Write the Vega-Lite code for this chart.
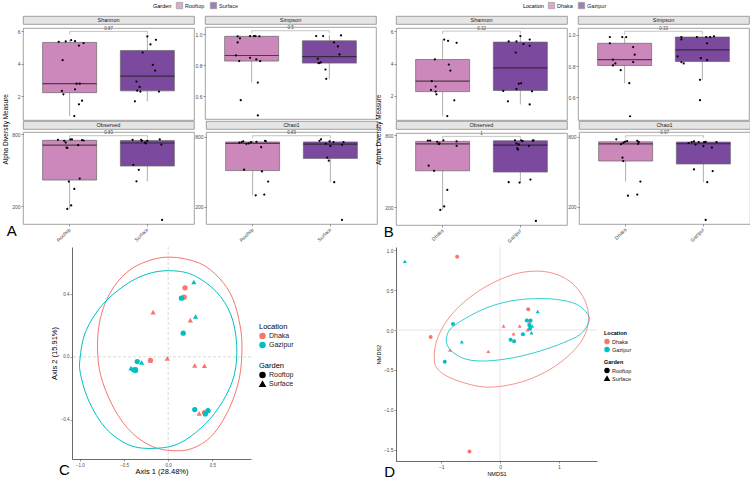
{
"$schema":"https://vega.github.io/schema/vega-lite/v6.json",
"padding":2,
"background":"white",
"config":{
 "font":"Liberation Sans",
 "view":{"stroke":"#8c8c8c","strokeWidth":0.8},
 "axis":{"domain":false,"grid":false,"tickSize":2,"tickColor":"#333","tickWidth":0.5,"labelFontSize":5,"labelColor":"#4d4d4d","labelPadding":1,"titleFontWeight":"normal","titleColor":"#000","titleFontSize":6},
 "legend":{"titleFontWeight":"normal","titleColor":"#000","labelColor":"#1a1a1a"},
 "title":{"fontWeight":"normal","color":"#000"}
},
"datasets":{
"alphaA":[
{"metric":"Shannon","group":"Rooftop","value":5.36,"j":-0.14},{"metric":"Shannon","group":"Rooftop","value":5.38,"j":-0.05},{"metric":"Shannon","group":"Rooftop","value":5.46,"j":0.02},{"metric":"Shannon","group":"Rooftop","value":5.40,"j":0.07},{"metric":"Shannon","group":"Rooftop","value":5.13,"j":0.12},{"metric":"Shannon","group":"Rooftop","value":5.28,"j":0.18},{"metric":"Shannon","group":"Rooftop","value":4.23,"j":-0.09},{"metric":"Shannon","group":"Rooftop","value":2.78,"j":0.09},{"metric":"Shannon","group":"Rooftop","value":2.78,"j":0.13},{"metric":"Shannon","group":"Rooftop","value":2.33,"j":-0.10},{"metric":"Shannon","group":"Rooftop","value":2.12,"j":-0.08},{"metric":"Shannon","group":"Rooftop","value":2.43,"j":0.07},{"metric":"Shannon","group":"Rooftop","value":1.73,"j":0.16},{"metric":"Shannon","group":"Rooftop","value":1.51,"j":0.12},{"metric":"Shannon","group":"Rooftop","value":0.78,"j":0.06},
{"metric":"Shannon","group":"Surface","value":5.69,"j":0.0},{"metric":"Shannon","group":"Surface","value":5.48,"j":0.11},{"metric":"Shannon","group":"Surface","value":5.20,"j":0.04},{"metric":"Shannon","group":"Surface","value":4.70,"j":-0.06},{"metric":"Shannon","group":"Surface","value":3.94,"j":0.07},{"metric":"Shannon","group":"Surface","value":3.59,"j":0.10},{"metric":"Shannon","group":"Surface","value":2.91,"j":-0.14},{"metric":"Shannon","group":"Surface","value":2.58,"j":-0.10},{"metric":"Shannon","group":"Surface","value":2.35,"j":-0.13},{"metric":"Shannon","group":"Surface","value":2.29,"j":-0.09},{"metric":"Shannon","group":"Surface","value":2.29,"j":0.15},{"metric":"Shannon","group":"Surface","value":1.69,"j":-0.16},
{"metric":"Simpson","group":"Rooftop","value":0.985,"j":-0.18},{"metric":"Simpson","group":"Rooftop","value":0.972,"j":-0.15},{"metric":"Simpson","group":"Rooftop","value":0.987,"j":-0.02},{"metric":"Simpson","group":"Rooftop","value":0.987,"j":0.03},{"metric":"Simpson","group":"Rooftop","value":0.987,"j":0.05},{"metric":"Simpson","group":"Rooftop","value":0.985,"j":0.10},{"metric":"Simpson","group":"Rooftop","value":0.946,"j":-0.18},{"metric":"Simpson","group":"Rooftop","value":0.862,"j":-0.20},{"metric":"Simpson","group":"Rooftop","value":0.826,"j":-0.16},{"metric":"Simpson","group":"Rooftop","value":0.847,"j":-0.02},{"metric":"Simpson","group":"Rooftop","value":0.837,"j":0.06},{"metric":"Simpson","group":"Rooftop","value":0.826,"j":0.11},{"metric":"Simpson","group":"Rooftop","value":0.688,"j":0.08},{"metric":"Simpson","group":"Rooftop","value":0.575,"j":-0.14},{"metric":"Simpson","group":"Rooftop","value":0.477,"j":0.08},
{"metric":"Simpson","group":"Surface","value":0.987,"j":-0.17},{"metric":"Simpson","group":"Surface","value":0.987,"j":-0.08},{"metric":"Simpson","group":"Surface","value":0.991,"j":0.15},{"metric":"Simpson","group":"Surface","value":0.946,"j":0.06},{"metric":"Simpson","group":"Surface","value":0.920,"j":0.11},{"metric":"Simpson","group":"Surface","value":0.869,"j":0.13},{"metric":"Simpson","group":"Surface","value":0.841,"j":-0.15},{"metric":"Simpson","group":"Surface","value":0.813,"j":-0.14},{"metric":"Simpson","group":"Surface","value":0.813,"j":-0.13},{"metric":"Simpson","group":"Surface","value":0.817,"j":-0.11},{"metric":"Simpson","group":"Surface","value":0.772,"j":-0.05},{"metric":"Simpson","group":"Surface","value":0.712,"j":-0.04},
{"metric":"Observed","group":"Rooftop","value":755,"j":-0.15},{"metric":"Observed","group":"Rooftop","value":746,"j":-0.07},{"metric":"Observed","group":"Rooftop","value":732,"j":-0.05},{"metric":"Observed","group":"Rooftop","value":758,"j":0.01},{"metric":"Observed","group":"Rooftop","value":758,"j":0.03},{"metric":"Observed","group":"Rooftop","value":687,"j":-0.03},{"metric":"Observed","group":"Rooftop","value":690,"j":-0.04},{"metric":"Observed","group":"Rooftop","value":710,"j":0.11},{"metric":"Observed","group":"Rooftop","value":752,"j":0.16},{"metric":"Observed","group":"Rooftop","value":749,"j":0.18},{"metric":"Observed","group":"Rooftop","value":431,"j":0.13},{"metric":"Observed","group":"Rooftop","value":406,"j":-0.01},{"metric":"Observed","group":"Rooftop","value":344,"j":0.06},{"metric":"Observed","group":"Rooftop","value":206,"j":0.02},{"metric":"Observed","group":"Rooftop","value":177,"j":-0.03},
{"metric":"Observed","group":"Surface","value":755,"j":-0.19},{"metric":"Observed","group":"Surface","value":755,"j":-0.08},{"metric":"Observed","group":"Surface","value":746,"j":-0.07},{"metric":"Observed","group":"Surface","value":732,"j":-0.03},{"metric":"Observed","group":"Surface","value":724,"j":-0.02},{"metric":"Observed","group":"Surface","value":746,"j":0.0},{"metric":"Observed","group":"Surface","value":758,"j":0.16},{"metric":"Observed","group":"Surface","value":715,"j":0.18},{"metric":"Observed","group":"Surface","value":546,"j":-0.18},{"metric":"Observed","group":"Surface","value":504,"j":-0.11},{"metric":"Observed","group":"Surface","value":408,"j":-0.14},{"metric":"Observed","group":"Surface","value":85,"j":0.19},
{"metric":"Chao1","group":"Rooftop","value":758,"j":-0.12},{"metric":"Chao1","group":"Rooftop","value":753,"j":-0.14},{"metric":"Chao1","group":"Rooftop","value":738,"j":-0.08},{"metric":"Chao1","group":"Rooftop","value":752,"j":-0.02},{"metric":"Chao1","group":"Rooftop","value":755,"j":0.05},{"metric":"Chao1","group":"Rooftop","value":764,"j":0.16},{"metric":"Chao1","group":"Rooftop","value":760,"j":0.17},{"metric":"Chao1","group":"Rooftop","value":709,"j":0.11},{"metric":"Chao1","group":"Rooftop","value":517,"j":-0.11},{"metric":"Chao1","group":"Rooftop","value":502,"j":0.12},{"metric":"Chao1","group":"Rooftop","value":416,"j":0.20},{"metric":"Chao1","group":"Rooftop","value":298,"j":0.04},{"metric":"Chao1","group":"Rooftop","value":304,"j":0.15},{"metric":"Chao1","group":"Rooftop","value":748,"j":-0.17},{"metric":"Chao1","group":"Rooftop","value":741,"j":-0.05},
{"metric":"Chao1","group":"Surface","value":776,"j":-0.12},{"metric":"Chao1","group":"Surface","value":764,"j":-0.14},{"metric":"Chao1","group":"Surface","value":758,"j":-0.01},{"metric":"Chao1","group":"Surface","value":753,"j":0.04},{"metric":"Chao1","group":"Surface","value":753,"j":0.17},{"metric":"Chao1","group":"Surface","value":740,"j":-0.06},{"metric":"Chao1","group":"Surface","value":730,"j":0.15},{"metric":"Chao1","group":"Surface","value":720,"j":0.0},{"metric":"Chao1","group":"Surface","value":620,"j":-0.04},{"metric":"Chao1","group":"Surface","value":594,"j":-0.02},{"metric":"Chao1","group":"Surface","value":410,"j":0.05},{"metric":"Chao1","group":"Surface","value":88,"j":0.15}
],
"alphaB":[
{"metric":"Shannon","group":"Dhaka","value":5.48,"j":0.02},{"metric":"Shannon","group":"Dhaka","value":5.40,"j":0.07},{"metric":"Shannon","group":"Dhaka","value":5.28,"j":0.18},{"metric":"Shannon","group":"Dhaka","value":4.25,"j":-0.10},{"metric":"Shannon","group":"Dhaka","value":3.94,"j":0.08},{"metric":"Shannon","group":"Dhaka","value":3.57,"j":0.10},{"metric":"Shannon","group":"Dhaka","value":2.91,"j":-0.14},{"metric":"Shannon","group":"Dhaka","value":2.58,"j":-0.09},{"metric":"Shannon","group":"Dhaka","value":2.37,"j":-0.15},{"metric":"Shannon","group":"Dhaka","value":2.27,"j":-0.09},{"metric":"Shannon","group":"Dhaka","value":2.10,"j":-0.08},{"metric":"Shannon","group":"Dhaka","value":1.73,"j":0.15},{"metric":"Shannon","group":"Dhaka","value":0.76,"j":0.06},
{"metric":"Shannon","group":"Gazipur","value":5.69,"j":0.0},{"metric":"Shannon","group":"Gazipur","value":5.36,"j":-0.15},{"metric":"Shannon","group":"Gazipur","value":5.36,"j":-0.05},{"metric":"Shannon","group":"Gazipur","value":5.48,"j":0.12},{"metric":"Shannon","group":"Gazipur","value":5.20,"j":0.04},{"metric":"Shannon","group":"Gazipur","value":5.09,"j":0.12},{"metric":"Shannon","group":"Gazipur","value":4.68,"j":-0.06},{"metric":"Shannon","group":"Gazipur","value":2.76,"j":-0.02},{"metric":"Shannon","group":"Gazipur","value":2.78,"j":0.01},{"metric":"Shannon","group":"Gazipur","value":2.43,"j":-0.05},{"metric":"Shannon","group":"Gazipur","value":2.29,"j":0.15},{"metric":"Shannon","group":"Gazipur","value":2.31,"j":-0.22},{"metric":"Shannon","group":"Gazipur","value":1.67,"j":-0.16},{"metric":"Shannon","group":"Gazipur","value":1.48,"j":0.12},
{"metric":"Simpson","group":"Dhaka","value":0.986,"j":-0.19},{"metric":"Simpson","group":"Dhaka","value":0.986,"j":-0.03},{"metric":"Simpson","group":"Dhaka","value":0.986,"j":0.02},{"metric":"Simpson","group":"Dhaka","value":0.946,"j":-0.19},{"metric":"Simpson","group":"Dhaka","value":0.922,"j":0.11},{"metric":"Simpson","group":"Dhaka","value":0.873,"j":0.13},{"metric":"Simpson","group":"Dhaka","value":0.841,"j":-0.15},{"metric":"Simpson","group":"Dhaka","value":0.826,"j":0.11},{"metric":"Simpson","group":"Dhaka","value":0.817,"j":-0.12},{"metric":"Simpson","group":"Dhaka","value":0.804,"j":-0.15},{"metric":"Simpson","group":"Dhaka","value":0.774,"j":-0.05},{"metric":"Simpson","group":"Dhaka","value":0.691,"j":0.06},{"metric":"Simpson","group":"Dhaka","value":0.479,"j":0.07},
{"metric":"Simpson","group":"Gazipur","value":0.986,"j":-0.27},{"metric":"Simpson","group":"Gazipur","value":0.986,"j":-0.07},{"metric":"Simpson","group":"Gazipur","value":0.986,"j":0.05},{"metric":"Simpson","group":"Gazipur","value":0.986,"j":0.10},{"metric":"Simpson","group":"Gazipur","value":0.991,"j":0.15},{"metric":"Simpson","group":"Gazipur","value":0.971,"j":-0.27},{"metric":"Simpson","group":"Gazipur","value":0.946,"j":0.06},{"metric":"Simpson","group":"Gazipur","value":0.862,"j":-0.32},{"metric":"Simpson","group":"Gazipur","value":0.826,"j":-0.27},{"metric":"Simpson","group":"Gazipur","value":0.817,"j":-0.24},{"metric":"Simpson","group":"Gazipur","value":0.851,"j":-0.02},{"metric":"Simpson","group":"Gazipur","value":0.839,"j":0.06},{"metric":"Simpson","group":"Gazipur","value":0.712,"j":-0.03},{"metric":"Simpson","group":"Gazipur","value":0.582,"j":-0.03},
{"metric":"Observed","group":"Dhaka","value":755,"j":-0.19},{"metric":"Observed","group":"Dhaka","value":755,"j":-0.16},{"metric":"Observed","group":"Dhaka","value":746,"j":-0.07},{"metric":"Observed","group":"Dhaka","value":732,"j":-0.04},{"metric":"Observed","group":"Dhaka","value":758,"j":0.01},{"metric":"Observed","group":"Dhaka","value":749,"j":0.18},{"metric":"Observed","group":"Dhaka","value":712,"j":0.18},{"metric":"Observed","group":"Dhaka","value":728,"j":-0.05},{"metric":"Observed","group":"Dhaka","value":547,"j":-0.18},{"metric":"Observed","group":"Dhaka","value":504,"j":-0.11},{"metric":"Observed","group":"Dhaka","value":344,"j":0.06},{"metric":"Observed","group":"Dhaka","value":207,"j":0.02},{"metric":"Observed","group":"Dhaka","value":178,"j":-0.03},
{"metric":"Observed","group":"Gazipur","value":758,"j":-0.07},{"metric":"Observed","group":"Gazipur","value":758,"j":0.01},{"metric":"Observed","group":"Gazipur","value":755,"j":0.16},{"metric":"Observed","group":"Gazipur","value":758,"j":0.17},{"metric":"Observed","group":"Gazipur","value":732,"j":-0.05},{"metric":"Observed","group":"Gazipur","value":724,"j":-0.02},{"metric":"Observed","group":"Gazipur","value":752,"j":0.03},{"metric":"Observed","group":"Gazipur","value":690,"j":-0.04},{"metric":"Observed","group":"Gazipur","value":681,"j":-0.03},{"metric":"Observed","group":"Gazipur","value":712,"j":0.11},{"metric":"Observed","group":"Gazipur","value":409,"j":-0.15},{"metric":"Observed","group":"Gazipur","value":406,"j":-0.01},{"metric":"Observed","group":"Gazipur","value":431,"j":0.13},{"metric":"Observed","group":"Gazipur","value":86,"j":0.20},
{"metric":"Chao1","group":"Dhaka","value":776,"j":-0.12},{"metric":"Chao1","group":"Dhaka","value":735,"j":-0.06},{"metric":"Chao1","group":"Dhaka","value":747,"j":-0.03},{"metric":"Chao1","group":"Dhaka","value":755,"j":-0.01},{"metric":"Chao1","group":"Dhaka","value":761,"j":0.02},{"metric":"Chao1","group":"Dhaka","value":764,"j":0.15},{"metric":"Chao1","group":"Dhaka","value":753,"j":0.17},{"metric":"Chao1","group":"Dhaka","value":738,"j":0.16},{"metric":"Chao1","group":"Dhaka","value":620,"j":-0.04},{"metric":"Chao1","group":"Dhaka","value":591,"j":-0.03},{"metric":"Chao1","group":"Dhaka","value":416,"j":0.19},{"metric":"Chao1","group":"Dhaka","value":295,"j":0.03},{"metric":"Chao1","group":"Dhaka","value":304,"j":0.15},
{"metric":"Chao1","group":"Gazipur","value":753,"j":-0.15},{"metric":"Chao1","group":"Gazipur","value":758,"j":-0.12},{"metric":"Chao1","group":"Gazipur","value":732,"j":-0.10},{"metric":"Chao1","group":"Gazipur","value":753,"j":-0.06},{"metric":"Chao1","group":"Gazipur","value":753,"j":0.01},{"metric":"Chao1","group":"Gazipur","value":755,"j":0.03},{"metric":"Chao1","group":"Gazipur","value":706,"j":0.11},{"metric":"Chao1","group":"Gazipur","value":718,"j":0.0},{"metric":"Chao1","group":"Gazipur","value":753,"j":0.17},{"metric":"Chao1","group":"Gazipur","value":519,"j":-0.12},{"metric":"Chao1","group":"Gazipur","value":505,"j":0.12},{"metric":"Chao1","group":"Gazipur","value":410,"j":0.05},{"metric":"Chao1","group":"Gazipur","value":88,"j":0.03},{"metric":"Chao1","group":"Gazipur","value":745,"j":-0.19}
],
"brA":[
{"metric":"Shannon","group":"Rooftop","y":5.83,"k":1},{"metric":"Shannon","group":"Rooftop","y":6.0,"k":2},{"metric":"Shannon","group":"Surface","y":6.0,"k":3},{"metric":"Shannon","group":"Surface","y":5.83,"k":4},
{"metric":"Simpson","group":"Rooftop","y":1.004,"k":1},{"metric":"Simpson","group":"Rooftop","y":1.021,"k":2},{"metric":"Simpson","group":"Surface","y":1.021,"k":3},{"metric":"Simpson","group":"Surface","y":1.004,"k":4},
{"metric":"Observed","group":"Rooftop","y":769,"k":1},{"metric":"Observed","group":"Rooftop","y":789,"k":2},{"metric":"Observed","group":"Surface","y":789,"k":3},{"metric":"Observed","group":"Surface","y":769,"k":4},
{"metric":"Chao1","group":"Rooftop","y":787,"k":1},{"metric":"Chao1","group":"Rooftop","y":807,"k":2},{"metric":"Chao1","group":"Surface","y":807,"k":3},{"metric":"Chao1","group":"Surface","y":787,"k":4}
],
"brB":[
{"metric":"Shannon","group":"Dhaka","y":5.81,"k":1},{"metric":"Shannon","group":"Dhaka","y":6.0,"k":2},{"metric":"Shannon","group":"Gazipur","y":6.0,"k":3},{"metric":"Shannon","group":"Gazipur","y":5.81,"k":4},
{"metric":"Simpson","group":"Dhaka","y":1.001,"k":1},{"metric":"Simpson","group":"Dhaka","y":1.023,"k":2},{"metric":"Simpson","group":"Gazipur","y":1.023,"k":3},{"metric":"Simpson","group":"Gazipur","y":1.001,"k":4},
{"metric":"Observed","group":"Dhaka","y":771,"k":1},{"metric":"Observed","group":"Dhaka","y":791,"k":2},{"metric":"Observed","group":"Gazipur","y":791,"k":3},{"metric":"Observed","group":"Gazipur","y":771,"k":4},
{"metric":"Chao1","group":"Dhaka","y":787,"k":1},{"metric":"Chao1","group":"Dhaka","y":807,"k":2},{"metric":"Chao1","group":"Gazipur","y":807,"k":3},{"metric":"Chao1","group":"Gazipur","y":787,"k":4}
],
"pA":[{"metric":"Shannon","p":"0.87","y":6.0},{"metric":"Simpson","p":"0.5","y":1.021},{"metric":"Observed","p":"0.83","y":789},{"metric":"Chao1","p":"0.83","y":807}],
"pB":[{"metric":"Shannon","p":"0.32","y":6.0},{"metric":"Simpson","p":"0.33","y":1.023},{"metric":"Observed","p":"1","y":791},{"metric":"Chao1","p":"0.97","y":807}],
"ptsC":[
{"Location":"Dhaka","Garden":"Rooftop","x":0.19,"y":0.44},{"Location":"Dhaka","Garden":"Rooftop","x":0.18,"y":0.38},{"Location":"Dhaka","Garden":"Surface","x":-0.17,"y":0.285},{"Location":"Dhaka","Garden":"Surface","x":0.25,"y":0.234},{"Location":"Dhaka","Garden":"Surface","x":-0.01,"y":-0.01},{"Location":"Dhaka","Garden":"Rooftop","x":-0.20,"y":-0.023},{"Location":"Dhaka","Garden":"Rooftop","x":-0.37,"y":-0.08},{"Location":"Dhaka","Garden":"Surface","x":0.30,"y":-0.055},{"Location":"Dhaka","Garden":"Surface","x":0.41,"y":-0.057},{"Location":"Dhaka","Garden":"Surface","x":0.35,"y":-0.36},{"Location":"Dhaka","Garden":"Rooftop","x":0.41,"y":-0.355},
{"Location":"Gazipur","Garden":"Surface","x":0.29,"y":0.477},{"Location":"Gazipur","Garden":"Rooftop","x":0.15,"y":0.374},{"Location":"Gazipur","Garden":"Surface","x":0.31,"y":0.257},{"Location":"Gazipur","Garden":"Rooftop","x":0.17,"y":0.151},{"Location":"Gazipur","Garden":"Rooftop","x":-0.35,"y":-0.03},{"Location":"Gazipur","Garden":"Surface","x":-0.30,"y":-0.036},{"Location":"Gazipur","Garden":"Surface","x":-0.42,"y":-0.072},{"Location":"Gazipur","Garden":"Rooftop","x":-0.39,"y":-0.083},{"Location":"Gazipur","Garden":"Rooftop","x":-0.37,"y":-0.087},{"Location":"Gazipur","Garden":"Rooftop","x":0.30,"y":-0.336},{"Location":"Gazipur","Garden":"Rooftop","x":0.45,"y":-0.343},{"Location":"Gazipur","Garden":"Rooftop","x":0.42,"y":-0.364}
],
"ellC":[
{"Location":"Dhaka","k":1,"x":0.008,"y":0.636},{"Location":"Dhaka","k":2,"x":0.351,"y":0.598},{"Location":"Dhaka","k":3,"x":0.577,"y":0.502},{"Location":"Dhaka","k":4,"x":0.728,"y":0.374},{"Location":"Dhaka","k":5,"x":0.811,"y":0.204},{"Location":"Dhaka","k":6,"x":0.834,"y":0.055},{"Location":"Dhaka","k":7,"x":0.804,"y":-0.136},{"Location":"Dhaka","k":8,"x":0.691,"y":-0.328},{"Location":"Dhaka","k":9,"x":0.502,"y":-0.498},{"Location":"Dhaka","k":10,"x":0.275,"y":-0.583},{"Location":"Dhaka","k":11,"x":0.049,"y":-0.598},{"Location":"Dhaka","k":12,"x":-0.177,"y":-0.572},{"Location":"Dhaka","k":13,"x":-0.404,"y":-0.487},{"Location":"Dhaka","k":14,"x":-0.592,"y":-0.349},{"Location":"Dhaka","k":15,"x":-0.743,"y":-0.157},{"Location":"Dhaka","k":16,"x":-0.796,"y":0.013},{"Location":"Dhaka","k":17,"x":-0.781,"y":0.204},{"Location":"Dhaka","k":18,"x":-0.687,"y":0.374},{"Location":"Dhaka","k":19,"x":-0.517,"y":0.513},{"Location":"Dhaka","k":20,"x":-0.291,"y":0.598},
{"Location":"Gazipur","k":1,"x":0.008,"y":0.549},{"Location":"Gazipur","k":2,"x":0.275,"y":0.523},{"Location":"Gazipur","k":3,"x":0.540,"y":0.417},{"Location":"Gazipur","k":4,"x":0.709,"y":0.268},{"Location":"Gazipur","k":5,"x":0.774,"y":0.077},{"Location":"Gazipur","k":6,"x":0.747,"y":-0.115},{"Location":"Gazipur","k":7,"x":0.615,"y":-0.285},{"Location":"Gazipur","k":8,"x":0.408,"y":-0.434},{"Location":"Gazipur","k":9,"x":0.125,"y":-0.551},{"Location":"Gazipur","k":10,"x":-0.158,"y":-0.583},{"Location":"Gazipur","k":11,"x":-0.442,"y":-0.562},{"Location":"Gazipur","k":12,"x":-0.706,"y":-0.455},{"Location":"Gazipur","k":13,"x":-0.894,"y":-0.285},{"Location":"Gazipur","k":14,"x":-0.989,"y":-0.115},{"Location":"Gazipur","k":15,"x":-0.996,"y":-0.009},{"Location":"Gazipur","k":16,"x":-0.932,"y":0.162},{"Location":"Gazipur","k":17,"x":-0.743,"y":0.332},{"Location":"Gazipur","k":18,"x":-0.479,"y":0.460},{"Location":"Gazipur","k":19,"x":-0.234,"y":0.528}
],
"ptsD":[
{"Location":"Dhaka","Garden":"Rooftop","x":-0.73,"y":0.917},{"Location":"Dhaka","Garden":"Rooftop","x":-1.18,"y":-0.0875},{"Location":"Dhaka","Garden":"Surface","x":-0.85,"y":-0.25},{"Location":"Dhaka","Garden":"Surface","x":-0.20,"y":-0.267},{"Location":"Dhaka","Garden":"Surface","x":0.06,"y":0.05},{"Location":"Dhaka","Garden":"Surface","x":0.23,"y":-0.046},{"Location":"Dhaka","Garden":"Surface","x":0.335,"y":0.05},{"Location":"Dhaka","Garden":"Rooftop","x":0.48,"y":0.26},{"Location":"Dhaka","Garden":"Surface","x":0.47,"y":0.125},{"Location":"Dhaka","Garden":"Rooftop","x":0.50,"y":0.075},{"Location":"Dhaka","Garden":"Surface","x":0.47,"y":0.004},{"Location":"Dhaka","Garden":"Rooftop","x":-0.52,"y":-1.52},
{"Location":"Gazipur","Garden":"Surface","x":-1.62,"y":0.86},{"Location":"Gazipur","Garden":"Rooftop","x":-0.80,"y":0.075},{"Location":"Gazipur","Garden":"Surface","x":-0.65,"y":-0.146},{"Location":"Gazipur","Garden":"Rooftop","x":-0.94,"y":-0.396},{"Location":"Gazipur","Garden":"Rooftop","x":0.18,"y":-0.12},{"Location":"Gazipur","Garden":"Rooftop","x":0.24,"y":-0.14},{"Location":"Gazipur","Garden":"Rooftop","x":0.39,"y":-0.054},{"Location":"Gazipur","Garden":"Rooftop","x":0.455,"y":0.12},{"Location":"Gazipur","Garden":"Rooftop","x":0.52,"y":0.12},{"Location":"Gazipur","Garden":"Rooftop","x":0.50,"y":0.058},{"Location":"Gazipur","Garden":"Surface","x":0.545,"y":0.05},{"Location":"Gazipur","Garden":"Rooftop","x":0.51,"y":0.017},{"Location":"Gazipur","Garden":"Surface","x":0.534,"y":-0.033},{"Location":"Gazipur","Garden":"Surface","x":0.64,"y":0.233}
],
"ellD":[
{"Location":"Dhaka","k":1,"x":-1.119,"y":-0.346},{"Location":"Dhaka","k":2,"x":-1.080,"y":-0.138},{"Location":"Dhaka","k":3,"x":-0.909,"y":0.113},{"Location":"Dhaka","k":4,"x":-0.625,"y":0.342},{"Location":"Dhaka","k":5,"x":-0.227,"y":0.550},{"Location":"Dhaka","k":6,"x":0.227,"y":0.696},{"Location":"Dhaka","k":7,"x":0.625,"y":0.738},{"Location":"Dhaka","k":8,"x":0.966,"y":0.696},{"Location":"Dhaka","k":9,"x":1.250,"y":0.571},{"Location":"Dhaka","k":10,"x":1.449,"y":0.363},{"Location":"Dhaka","k":11,"x":1.506,"y":0.133},{"Location":"Dhaka","k":12,"x":1.420,"y":-0.096},{"Location":"Dhaka","k":13,"x":1.193,"y":-0.304},{"Location":"Dhaka","k":14,"x":0.852,"y":-0.492},{"Location":"Dhaka","k":15,"x":0.455,"y":-0.629},{"Location":"Dhaka","k":16,"x":0.057,"y":-0.700},{"Location":"Dhaka","k":17,"x":-0.284,"y":-0.713},{"Location":"Dhaka","k":18,"x":-0.625,"y":-0.658},{"Location":"Dhaka","k":19,"x":-0.909,"y":-0.575},{"Location":"Dhaka","k":20,"x":-1.080,"y":-0.471},
{"Location":"Gazipur","k":1,"x":-0.909,"y":-0.0875},{"Location":"Gazipur","k":2,"x":-0.824,"y":0.029},{"Location":"Gazipur","k":3,"x":-0.568,"y":0.154},{"Location":"Gazipur","k":4,"x":-0.227,"y":0.279},{"Location":"Gazipur","k":5,"x":0.170,"y":0.3625},{"Location":"Gazipur","k":6,"x":0.568,"y":0.392},{"Location":"Gazipur","k":7,"x":0.966,"y":0.383},{"Location":"Gazipur","k":8,"x":1.307,"y":0.321},{"Location":"Gazipur","k":9,"x":1.494,"y":0.196},{"Location":"Gazipur","k":10,"x":1.506,"y":0.092},{"Location":"Gazipur","k":11,"x":1.364,"y":-0.054},{"Location":"Gazipur","k":12,"x":1.080,"y":-0.158},{"Location":"Gazipur","k":13,"x":0.682,"y":-0.2625},{"Location":"Gazipur","k":14,"x":0.227,"y":-0.346},{"Location":"Gazipur","k":15,"x":-0.227,"y":-0.3875},{"Location":"Gazipur","k":16,"x":-0.568,"y":-0.367},{"Location":"Gazipur","k":17,"x":-0.795,"y":-0.283},{"Location":"Gazipur","k":18,"x":-0.898,"y":-0.1875}
]
},
"vconcat":[
{"hconcat":[
 {"title":{"text":"A","orient":"bottom","anchor":"start","fontSize":15,"offset":-19,"frame":"bounds","dx":4},
  "resolve":{"scale":{"color":"shared","x":"independent","y":"independent"}},
  "vconcat":[
  {"title":{"text":"Alpha Diversity Measure","orient":"left","anchor":"middle","fontSize":6.5,"offset":2},
   "spacing":-6,
   "resolve":{"scale":{"color":"shared","x":"independent","y":"independent"}},
   "vconcat":[
    {"hconcat":[
      {"spacing":0,"resolve":{"scale":{"color":"shared","x":"independent","y":"independent"}},"vconcat":[
        {"width":171,"height":8,"data":{"values":[{"label":"Shannon"}]},"mark":{"type":"text","fontSize":5.5,"color":"#1a1a1a"},"encoding":{"text":{"field":"label"}},"view":{"fill":"#e5e5e5","stroke":"#8c8c8c","strokeWidth":0.8}},
        {"width":171,"height":92,"layer":[
          {"data":{"name":"alphaA"},"transform":[{"filter":"datum.metric==='Shannon'"}],"mark":{"type":"boxplot","extent":1.5,"outliers":false,"size":54,"box":{"stroke":"#666","strokeWidth":0.7},"median":{"color":"#1a1a1a","thickness":1.2},"rule":{"color":"#777","strokeWidth":0.6}},
           "encoding":{"x":{"field":"group","type":"nominal","scale":{"paddingInner":0,"paddingOuter":0.1},"axis":null},
            "y":{"field":"value","type":"quantitative","scale":{"domain":[0.54,6.21],"zero":false,"nice":false},"axis":{"values":[2,4,6],"title":null}},
            "color":{"field":"group","type":"nominal","scale":{"domain":["Rooftop","Surface"],"range":["#cc88bb","#7b4a9e"]},"legend":{"title":"Garden","orient":"none","legendX":130,"legendY":-14,"direction":"horizontal","titleOrient":"left","titleFontSize":5.5,"titlePadding":4,"labelFontSize":5.5,"symbolType":"square","symbolSize":40,"symbolStrokeColor":"#666","symbolStrokeWidth":0.6,"columnPadding":4,"labelOffset":2}}}},
          {"data":{"name":"alphaA"},"transform":[{"filter":"datum.metric==='Shannon'"}],"mark":{"type":"circle","size":5,"color":"#000","opacity":1},"encoding":{"x":{"field":"group","type":"nominal"},"xOffset":{"field":"j","type":"quantitative","scale":{"domain":[-0.5,0.5],"range":[0,77.7]}},"y":{"field":"value","type":"quantitative"}}},
          {"data":{"name":"brA"},"transform":[{"filter":"datum.metric==='Shannon'"}],"mark":{"type":"line","color":"#888","strokeWidth":0.5},"encoding":{"x":{"field":"group","type":"nominal"},"y":{"field":"y","type":"quantitative"},"order":{"field":"k","type":"quantitative"}}},
          {"data":{"name":"pA"},"transform":[{"filter":"datum.metric==='Shannon'"}],"mark":{"type":"text","fontSize":4.5,"baseline":"bottom","dy":-0.3,"color":"#4d4d4d"},"encoding":{"text":{"field":"p"},"y":{"field":"y","type":"quantitative"}}}
        ]}
      ]},
      {"spacing":0,"resolve":{"scale":{"color":"shared","x":"independent","y":"independent"}},"vconcat":[
        {"width":171,"height":8,"data":{"values":[{"label":"Simpson"}]},"mark":{"type":"text","fontSize":5.5,"color":"#1a1a1a"},"encoding":{"text":{"field":"label"}},"view":{"fill":"#e5e5e5","stroke":"#8c8c8c","strokeWidth":0.8}},
        {"width":171,"height":92,"layer":[
          {"data":{"name":"alphaA"},"transform":[{"filter":"datum.metric==='Simpson'"}],"mark":{"type":"boxplot","extent":1.5,"outliers":false,"size":54,"box":{"stroke":"#666","strokeWidth":0.7},"median":{"color":"#1a1a1a","thickness":1.2},"rule":{"color":"#777","strokeWidth":0.6}},
           "encoding":{"x":{"field":"group","type":"nominal","scale":{"paddingInner":0,"paddingOuter":0.1},"axis":null},
            "y":{"field":"value","type":"quantitative","scale":{"domain":[0.454,1.045],"zero":false,"nice":false},"axis":{"values":[0.6,0.8,1.0],"format":".1f","title":null}},
            "color":{"field":"group","type":"nominal","scale":{"domain":["Rooftop","Surface"],"range":["#cc88bb","#7b4a9e"]},"legend":{"title":"Garden","orient":"none","legendX":130,"legendY":-14,"direction":"horizontal","titleOrient":"left","titleFontSize":5.5,"titlePadding":4,"labelFontSize":5.5,"symbolType":"square","symbolSize":40,"symbolStrokeColor":"#666","symbolStrokeWidth":0.6,"columnPadding":4,"labelOffset":2}}}},
          {"data":{"name":"alphaA"},"transform":[{"filter":"datum.metric==='Simpson'"}],"mark":{"type":"circle","size":5,"color":"#000","opacity":1},"encoding":{"x":{"field":"group","type":"nominal"},"xOffset":{"field":"j","type":"quantitative","scale":{"domain":[-0.5,0.5],"range":[0,77.7]}},"y":{"field":"value","type":"quantitative"}}},
          {"data":{"name":"brA"},"transform":[{"filter":"datum.metric==='Simpson'"}],"mark":{"type":"line","color":"#888","strokeWidth":0.5},"encoding":{"x":{"field":"group","type":"nominal"},"y":{"field":"y","type":"quantitative"},"order":{"field":"k","type":"quantitative"}}},
          {"data":{"name":"pA"},"transform":[{"filter":"datum.metric==='Simpson'"}],"mark":{"type":"text","fontSize":4.5,"baseline":"bottom","dy":-0.3,"color":"#4d4d4d"},"encoding":{"text":{"field":"p"},"y":{"field":"y","type":"quantitative"}}}
        ]}
      ]}
    ],"spacing":-1,"resolve":{"scale":{"color":"shared","x":"independent","y":"independent"}}},
    {"hconcat":[
      {"spacing":0,"resolve":{"scale":{"color":"shared","x":"independent","y":"independent"}},"vconcat":[
        {"width":171,"height":8,"data":{"values":[{"label":"Observed"}]},"mark":{"type":"text","fontSize":5.5,"color":"#1a1a1a"},"encoding":{"text":{"field":"label"}},"view":{"fill":"#e5e5e5","stroke":"#8c8c8c","strokeWidth":0.8}},
        {"width":171,"height":92,"layer":[
          {"data":{"name":"alphaA"},"transform":[{"filter":"datum.metric==='Observed'"}],"mark":{"type":"boxplot","extent":1.5,"outliers":false,"size":54,"box":{"stroke":"#666","strokeWidth":0.7},"median":{"color":"#1a1a1a","thickness":1.2},"rule":{"color":"#777","strokeWidth":0.6}},
           "encoding":{"x":{"field":"group","type":"nominal","scale":{"paddingInner":0,"paddingOuter":0.1},"axis":{"title":null,"labelAngle":-45,"labelAlign":"right","labelBaseline":"middle","labelPadding":2,"labelColor":"#4d4d4d"}},
            "y":{"field":"value","type":"quantitative","scale":{"domain":[51,820],"zero":false,"nice":false},"axis":{"values":[200,400,600,800],"title":null}},
            "color":{"field":"group","type":"nominal","scale":{"domain":["Rooftop","Surface"],"range":["#cc88bb","#7b4a9e"]},"legend":{"title":"Garden","orient":"none","legendX":130,"legendY":-14,"direction":"horizontal","titleOrient":"left","titleFontSize":5.5,"titlePadding":4,"labelFontSize":5.5,"symbolType":"square","symbolSize":40,"symbolStrokeColor":"#666","symbolStrokeWidth":0.6,"columnPadding":4,"labelOffset":2}}}},
          {"data":{"name":"alphaA"},"transform":[{"filter":"datum.metric==='Observed'"}],"mark":{"type":"circle","size":5,"color":"#000","opacity":1},"encoding":{"x":{"field":"group","type":"nominal"},"xOffset":{"field":"j","type":"quantitative","scale":{"domain":[-0.5,0.5],"range":[0,77.7]}},"y":{"field":"value","type":"quantitative"}}},
          {"data":{"name":"brA"},"transform":[{"filter":"datum.metric==='Observed'"}],"mark":{"type":"line","color":"#888","strokeWidth":0.5},"encoding":{"x":{"field":"group","type":"nominal"},"y":{"field":"y","type":"quantitative"},"order":{"field":"k","type":"quantitative"}}},
          {"data":{"name":"pA"},"transform":[{"filter":"datum.metric==='Observed'"}],"mark":{"type":"text","fontSize":4.5,"baseline":"bottom","dy":-0.3,"color":"#4d4d4d"},"encoding":{"text":{"field":"p"},"y":{"field":"y","type":"quantitative"}}}
        ]}
      ]},
      {"spacing":0,"resolve":{"scale":{"color":"shared","x":"independent","y":"independent"}},"vconcat":[
        {"width":171,"height":8,"data":{"values":[{"label":"Chao1"}]},"mark":{"type":"text","fontSize":5.5,"color":"#1a1a1a"},"encoding":{"text":{"field":"label"}},"view":{"fill":"#e5e5e5","stroke":"#8c8c8c","strokeWidth":0.8}},
        {"width":171,"height":92,"layer":[
          {"data":{"name":"alphaA"},"transform":[{"filter":"datum.metric==='Chao1'"}],"mark":{"type":"boxplot","extent":1.5,"outliers":false,"size":54,"box":{"stroke":"#666","strokeWidth":0.7},"median":{"color":"#1a1a1a","thickness":1.2},"rule":{"color":"#777","strokeWidth":0.6}},
           "encoding":{"x":{"field":"group","type":"nominal","scale":{"paddingInner":0,"paddingOuter":0.1},"axis":{"title":null,"labelAngle":-45,"labelAlign":"right","labelBaseline":"middle","labelPadding":2,"labelColor":"#4d4d4d"}},
            "y":{"field":"value","type":"quantitative","scale":{"domain":[53,839],"zero":false,"nice":false},"axis":{"values":[200,400,600,800],"title":null}},
            "color":{"field":"group","type":"nominal","scale":{"domain":["Rooftop","Surface"],"range":["#cc88bb","#7b4a9e"]},"legend":{"title":"Garden","orient":"none","legendX":130,"legendY":-14,"direction":"horizontal","titleOrient":"left","titleFontSize":5.5,"titlePadding":4,"labelFontSize":5.5,"symbolType":"square","symbolSize":40,"symbolStrokeColor":"#666","symbolStrokeWidth":0.6,"columnPadding":4,"labelOffset":2}}}},
          {"data":{"name":"alphaA"},"transform":[{"filter":"datum.metric==='Chao1'"}],"mark":{"type":"circle","size":5,"color":"#000","opacity":1},"encoding":{"x":{"field":"group","type":"nominal"},"xOffset":{"field":"j","type":"quantitative","scale":{"domain":[-0.5,0.5],"range":[0,77.7]}},"y":{"field":"value","type":"quantitative"}}},
          {"data":{"name":"brA"},"transform":[{"filter":"datum.metric==='Chao1'"}],"mark":{"type":"line","color":"#888","strokeWidth":0.5},"encoding":{"x":{"field":"group","type":"nominal"},"y":{"field":"y","type":"quantitative"},"order":{"field":"k","type":"quantitative"}}},
          {"data":{"name":"pA"},"transform":[{"filter":"datum.metric==='Chao1'"}],"mark":{"type":"text","fontSize":4.5,"baseline":"bottom","dy":-0.3,"color":"#4d4d4d"},"encoding":{"text":{"field":"p"},"y":{"field":"y","type":"quantitative"}}}
        ]}
      ]}
    ],"spacing":-1,"resolve":{"scale":{"color":"shared","x":"independent","y":"independent"}}}
   ]}
  ]},
 {"title":{"text":"B","orient":"bottom","anchor":"start","fontSize":15,"offset":-19,"frame":"bounds","dx":8},
  "resolve":{"scale":{"color":"shared","x":"independent","y":"independent"}},
  "vconcat":[
  {"title":{"text":"Alpha Diversity Measure","orient":"left","anchor":"middle","fontSize":6.5,"offset":2},
   "spacing":-6,
   "resolve":{"scale":{"color":"shared","x":"independent","y":"independent"}},
   "vconcat":[
    {"hconcat":[
      {"spacing":0,"resolve":{"scale":{"color":"shared","x":"independent","y":"independent"}},"vconcat":[
        {"width":171,"height":8,"data":{"values":[{"label":"Shannon"}]},"mark":{"type":"text","fontSize":5.5,"color":"#1a1a1a"},"encoding":{"text":{"field":"label"}},"view":{"fill":"#e5e5e5","stroke":"#8c8c8c","strokeWidth":0.8}},
        {"width":171,"height":92,"layer":[
          {"data":{"name":"alphaB"},"transform":[{"filter":"datum.metric==='Shannon'"}],"mark":{"type":"boxplot","extent":1.5,"outliers":false,"size":54,"box":{"stroke":"#666","strokeWidth":0.7},"median":{"color":"#1a1a1a","thickness":1.2},"rule":{"color":"#777","strokeWidth":0.6}},
           "encoding":{"x":{"field":"group","type":"nominal","scale":{"paddingInner":0,"paddingOuter":0.1},"axis":null},
            "y":{"field":"value","type":"quantitative","scale":{"domain":[0.52,6.19],"zero":false,"nice":false},"axis":{"values":[2,4,6],"title":null}},
            "color":{"field":"group","type":"nominal","scale":{"domain":["Dhaka","Gazipur"],"range":["#cc88bb","#7b4a9e"]},"legend":{"title":"Location","orient":"none","legendX":127,"legendY":-14,"direction":"horizontal","titleOrient":"left","titleFontSize":5.5,"titlePadding":4,"labelFontSize":5.5,"symbolType":"square","symbolSize":40,"symbolStrokeColor":"#666","symbolStrokeWidth":0.6,"columnPadding":4,"labelOffset":2}}}},
          {"data":{"name":"alphaB"},"transform":[{"filter":"datum.metric==='Shannon'"}],"mark":{"type":"circle","size":5,"color":"#000","opacity":1},"encoding":{"x":{"field":"group","type":"nominal"},"xOffset":{"field":"j","type":"quantitative","scale":{"domain":[-0.5,0.5],"range":[0,77.7]}},"y":{"field":"value","type":"quantitative"}}},
          {"data":{"name":"brB"},"transform":[{"filter":"datum.metric==='Shannon'"}],"mark":{"type":"line","color":"#888","strokeWidth":0.5},"encoding":{"x":{"field":"group","type":"nominal"},"y":{"field":"y","type":"quantitative"},"order":{"field":"k","type":"quantitative"}}},
          {"data":{"name":"pB"},"transform":[{"filter":"datum.metric==='Shannon'"}],"mark":{"type":"text","fontSize":4.5,"baseline":"bottom","dy":-0.3,"color":"#4d4d4d"},"encoding":{"text":{"field":"p"},"y":{"field":"y","type":"quantitative"}}}
        ]}
      ]},
      {"spacing":0,"resolve":{"scale":{"color":"shared","x":"independent","y":"independent"}},"vconcat":[
        {"width":171,"height":8,"data":{"values":[{"label":"Simpson"}]},"mark":{"type":"text","fontSize":5.5,"color":"#1a1a1a"},"encoding":{"text":{"field":"label"}},"view":{"fill":"#e5e5e5","stroke":"#8c8c8c","strokeWidth":0.8}},
        {"width":171,"height":92,"layer":[
          {"data":{"name":"alphaB"},"transform":[{"filter":"datum.metric==='Simpson'"}],"mark":{"type":"boxplot","extent":1.5,"outliers":false,"size":54,"box":{"stroke":"#666","strokeWidth":0.7},"median":{"color":"#1a1a1a","thickness":1.2},"rule":{"color":"#777","strokeWidth":0.6}},
           "encoding":{"x":{"field":"group","type":"nominal","scale":{"paddingInner":0,"paddingOuter":0.1},"axis":null},
            "y":{"field":"value","type":"quantitative","scale":{"domain":[0.455,1.044],"zero":false,"nice":false},"axis":{"values":[0.6,0.8,1.0],"format":".1f","title":null}},
            "color":{"field":"group","type":"nominal","scale":{"domain":["Dhaka","Gazipur"],"range":["#cc88bb","#7b4a9e"]},"legend":{"title":"Location","orient":"none","legendX":127,"legendY":-14,"direction":"horizontal","titleOrient":"left","titleFontSize":5.5,"titlePadding":4,"labelFontSize":5.5,"symbolType":"square","symbolSize":40,"symbolStrokeColor":"#666","symbolStrokeWidth":0.6,"columnPadding":4,"labelOffset":2}}}},
          {"data":{"name":"alphaB"},"transform":[{"filter":"datum.metric==='Simpson'"}],"mark":{"type":"circle","size":5,"color":"#000","opacity":1},"encoding":{"x":{"field":"group","type":"nominal"},"xOffset":{"field":"j","type":"quantitative","scale":{"domain":[-0.5,0.5],"range":[0,77.7]}},"y":{"field":"value","type":"quantitative"}}},
          {"data":{"name":"brB"},"transform":[{"filter":"datum.metric==='Simpson'"}],"mark":{"type":"line","color":"#888","strokeWidth":0.5},"encoding":{"x":{"field":"group","type":"nominal"},"y":{"field":"y","type":"quantitative"},"order":{"field":"k","type":"quantitative"}}},
          {"data":{"name":"pB"},"transform":[{"filter":"datum.metric==='Simpson'"}],"mark":{"type":"text","fontSize":4.5,"baseline":"bottom","dy":-0.3,"color":"#4d4d4d"},"encoding":{"text":{"field":"p"},"y":{"field":"y","type":"quantitative"}}}
        ]}
      ]}
    ],"spacing":-1,"resolve":{"scale":{"color":"shared","x":"independent","y":"independent"}}},
    {"hconcat":[
      {"spacing":0,"resolve":{"scale":{"color":"shared","x":"independent","y":"independent"}},"vconcat":[
        {"width":171,"height":8,"data":{"values":[{"label":"Observed"}]},"mark":{"type":"text","fontSize":5.5,"color":"#1a1a1a"},"encoding":{"text":{"field":"label"}},"view":{"fill":"#e5e5e5","stroke":"#8c8c8c","strokeWidth":0.8}},
        {"width":171,"height":92,"layer":[
          {"data":{"name":"alphaB"},"transform":[{"filter":"datum.metric==='Observed'"}],"mark":{"type":"boxplot","extent":1.5,"outliers":false,"size":54,"box":{"stroke":"#666","strokeWidth":0.7},"median":{"color":"#1a1a1a","thickness":1.2},"rule":{"color":"#777","strokeWidth":0.6}},
           "encoding":{"x":{"field":"group","type":"nominal","scale":{"paddingInner":0,"paddingOuter":0.1},"axis":{"title":null,"labelAngle":-45,"labelAlign":"right","labelBaseline":"middle","labelPadding":2,"labelColor":"#4d4d4d"}},
            "y":{"field":"value","type":"quantitative","scale":{"domain":[52,819],"zero":false,"nice":false},"axis":{"values":[200,400,600,800],"title":null}},
            "color":{"field":"group","type":"nominal","scale":{"domain":["Dhaka","Gazipur"],"range":["#cc88bb","#7b4a9e"]},"legend":{"title":"Location","orient":"none","legendX":127,"legendY":-14,"direction":"horizontal","titleOrient":"left","titleFontSize":5.5,"titlePadding":4,"labelFontSize":5.5,"symbolType":"square","symbolSize":40,"symbolStrokeColor":"#666","symbolStrokeWidth":0.6,"columnPadding":4,"labelOffset":2}}}},
          {"data":{"name":"alphaB"},"transform":[{"filter":"datum.metric==='Observed'"}],"mark":{"type":"circle","size":5,"color":"#000","opacity":1},"encoding":{"x":{"field":"group","type":"nominal"},"xOffset":{"field":"j","type":"quantitative","scale":{"domain":[-0.5,0.5],"range":[0,77.7]}},"y":{"field":"value","type":"quantitative"}}},
          {"data":{"name":"brB"},"transform":[{"filter":"datum.metric==='Observed'"}],"mark":{"type":"line","color":"#888","strokeWidth":0.5},"encoding":{"x":{"field":"group","type":"nominal"},"y":{"field":"y","type":"quantitative"},"order":{"field":"k","type":"quantitative"}}},
          {"data":{"name":"pB"},"transform":[{"filter":"datum.metric==='Observed'"}],"mark":{"type":"text","fontSize":4.5,"baseline":"bottom","dy":-0.3,"color":"#4d4d4d"},"encoding":{"text":{"field":"p"},"y":{"field":"y","type":"quantitative"}}}
        ]}
      ]},
      {"spacing":0,"resolve":{"scale":{"color":"shared","x":"independent","y":"independent"}},"vconcat":[
        {"width":171,"height":8,"data":{"values":[{"label":"Chao1"}]},"mark":{"type":"text","fontSize":5.5,"color":"#1a1a1a"},"encoding":{"text":{"field":"label"}},"view":{"fill":"#e5e5e5","stroke":"#8c8c8c","strokeWidth":0.8}},
        {"width":171,"height":92,"layer":[
          {"data":{"name":"alphaB"},"transform":[{"filter":"datum.metric==='Chao1'"}],"mark":{"type":"boxplot","extent":1.5,"outliers":false,"size":54,"box":{"stroke":"#666","strokeWidth":0.7},"median":{"color":"#1a1a1a","thickness":1.2},"rule":{"color":"#777","strokeWidth":0.6}},
           "encoding":{"x":{"field":"group","type":"nominal","scale":{"paddingInner":0,"paddingOuter":0.1},"axis":{"title":null,"labelAngle":-45,"labelAlign":"right","labelBaseline":"middle","labelPadding":2,"labelColor":"#4d4d4d"}},
            "y":{"field":"value","type":"quantitative","scale":{"domain":[53,839],"zero":false,"nice":false},"axis":{"values":[200,400,600,800],"title":null}},
            "color":{"field":"group","type":"nominal","scale":{"domain":["Dhaka","Gazipur"],"range":["#cc88bb","#7b4a9e"]},"legend":{"title":"Location","orient":"none","legendX":127,"legendY":-14,"direction":"horizontal","titleOrient":"left","titleFontSize":5.5,"titlePadding":4,"labelFontSize":5.5,"symbolType":"square","symbolSize":40,"symbolStrokeColor":"#666","symbolStrokeWidth":0.6,"columnPadding":4,"labelOffset":2}}}},
          {"data":{"name":"alphaB"},"transform":[{"filter":"datum.metric==='Chao1'"}],"mark":{"type":"circle","size":5,"color":"#000","opacity":1},"encoding":{"x":{"field":"group","type":"nominal"},"xOffset":{"field":"j","type":"quantitative","scale":{"domain":[-0.5,0.5],"range":[0,77.7]}},"y":{"field":"value","type":"quantitative"}}},
          {"data":{"name":"brB"},"transform":[{"filter":"datum.metric==='Chao1'"}],"mark":{"type":"line","color":"#888","strokeWidth":0.5},"encoding":{"x":{"field":"group","type":"nominal"},"y":{"field":"y","type":"quantitative"},"order":{"field":"k","type":"quantitative"}}},
          {"data":{"name":"pB"},"transform":[{"filter":"datum.metric==='Chao1'"}],"mark":{"type":"text","fontSize":4.5,"baseline":"bottom","dy":-0.3,"color":"#4d4d4d"},"encoding":{"text":{"field":"p"},"y":{"field":"y","type":"quantitative"}}}
        ]}
      ]}
    ],"spacing":-1,"resolve":{"scale":{"color":"shared","x":"independent","y":"independent"}}}
   ]}
  ]}
 ],"spacing":-3,"resolve":{"scale":{"color":"independent","x":"independent","y":"independent"}}},
{"hconcat":[
 {"width":27,"height":10,"data":{"values":[{}]},"mark":{"type":"point","opacity":0},"view":{"stroke":null}},
 {"width":179,"height":212,"view":{"stroke":null},
  "title":{"text":"C","orient":"bottom","anchor":"start","fontSize":15,"dx":9,"offset":-12},
  "layer":[
   {"data":{"values":[{}]},"mark":{"type":"rule","color":"#bdbdbd","strokeDash":[3,2],"strokeWidth":0.6},"encoding":{"x":{"datum":0,"type":"quantitative"}}},
   {"data":{"values":[{}]},"mark":{"type":"rule","color":"#bdbdbd","strokeDash":[3,2],"strokeWidth":0.6},"encoding":{"y":{"datum":0,"type":"quantitative"}}},
   {"data":{"name":"ptsC"},"mark":{"type":"point","filled":true,"size":28,"opacity":1},
    "encoding":{"x":{"field":"x","type":"quantitative","scale":{"domain":[-1.087,0.936],"zero":false,"nice":false},"axis":{"values":[-1,-0.5,0,0.5],"format":".1f","title":"Axis 1 (28.48%)","domain":true,"domainColor":"#444","domainWidth":0.8,"titleFontSize":7.5,"labelFontSize":4.5,"titlePadding":1}},
     "y":{"field":"y","type":"quantitative","scale":{"domain":[-0.651,0.70],"zero":false,"nice":false},"axis":{"values":[-0.4,0,0.4],"format":".1f","title":"Axis 2 (15.91%)","domain":true,"domainColor":"#444","domainWidth":0.8,"titleFontSize":7.5,"labelFontSize":4.5,"titlePadding":2}},
     "color":{"field":"Location","type":"nominal","scale":{"domain":["Dhaka","Gazipur"],"range":["#F8766D","#00BFC4"]},"legend":{"title":"Location","orient":"none","legendX":187,"legendY":76,"titleFontSize":7.5,"titleColor":"#000","labelFontSize":7,"symbolType":"circle","symbolSize":25,"rowPadding":-3,"titlePadding":2,"labelOffset":3}},
     "shape":{"field":"Garden","type":"nominal","scale":{"domain":["Rooftop","Surface"],"range":["circle","triangle-up"]},"legend":{"title":"Garden","orient":"none","legendX":187,"legendY":115,"titleFontSize":7.5,"titleColor":"#000","labelFontSize":7,"symbolSize":25,"symbolFillColor":"#000","symbolStrokeColor":"#000","rowPadding":-3,"titlePadding":2,"labelOffset":3}}}},
   {"data":{"name":"ellC"},"mark":{"type":"line","interpolate":"cardinal-closed","strokeWidth":1},
    "encoding":{"x":{"field":"x","type":"quantitative"},"y":{"field":"y","type":"quantitative"},"stroke":{"field":"Location","type":"nominal","scale":{"domain":["Dhaka","Gazipur"],"range":["#F8766D","#00BFC4"]},"legend":null},"order":{"field":"k","type":"quantitative"}}}
  ]},
 {"width":82,"height":10,"data":{"values":[{}]},"mark":{"type":"point","opacity":0},"view":{"stroke":null}},
 {"width":201,"height":214,"view":{"stroke":null},
  "title":{"text":"D","orient":"bottom","anchor":"start","fontSize":15,"dx":8,"offset":-12},
  "layer":[
   {"data":{"values":[{}]},"mark":{"type":"rule","color":"#d4d4d4","strokeWidth":0.6},"encoding":{"x":{"datum":0,"type":"quantitative"}}},
   {"data":{"values":[{}]},"mark":{"type":"rule","color":"#d4d4d4","strokeWidth":0.6},"encoding":{"y":{"datum":0,"type":"quantitative"}}},
   {"data":{"name":"ptsD"},"mark":{"type":"point","filled":true,"size":16,"opacity":1},
    "encoding":{"x":{"field":"x","type":"quantitative","scale":{"domain":[-1.77,1.65],"zero":false,"nice":false},"axis":{"values":[-1,0,1],"format":"d","title":"NMDS1","domain":true,"domainColor":"#444","domainWidth":0.8,"titleFontSize":5.5,"labelFontSize":5,"titlePadding":2}},
     "y":{"field":"y","type":"quantitative","scale":{"domain":[-1.64,1.04],"zero":false,"nice":false},"axis":{"values":[-1.5,-1,-0.5,0,0.5,1],"format":".1f","title":"NMDS2","domain":true,"domainColor":"#444","domainWidth":0.8,"titleFontSize":5.5,"labelFontSize":5,"titlePadding":2}},
     "color":{"field":"Location","type":"nominal","scale":{"domain":["Dhaka","Gazipur"],"range":["#F8766D","#00BFC4"]},"legend":{"title":"Location","orient":"none","legendX":208,"legendY":84,"titleFontSize":5.5,"titleFontWeight":"bold","titleColor":"#000","labelFontSize":5.5,"symbolType":"circle","symbolSize":16,"rowPadding":-2,"titlePadding":2,"labelOffset":2}},
     "shape":{"field":"Garden","type":"nominal","scale":{"domain":["Rooftop","Surface"],"range":["circle","triangle-up"]},"legend":{"title":"Garden","orient":"none","legendX":208,"legendY":113,"titleFontSize":5.5,"titleFontWeight":"bold","titleColor":"#000","labelFontSize":5.5,"symbolSize":16,"symbolFillColor":"#000","symbolStrokeColor":"#000","rowPadding":-2,"titlePadding":2,"labelOffset":2}}}},
   {"data":{"name":"ellD"},"mark":{"type":"line","interpolate":"cardinal-closed","strokeWidth":0.8},
    "encoding":{"x":{"field":"x","type":"quantitative"},"y":{"field":"y","type":"quantitative"},"stroke":{"field":"Location","type":"nominal","scale":{"domain":["Dhaka","Gazipur"],"range":["#F8766D","#00BFC4"]},"legend":null},"order":{"field":"k","type":"quantitative"}}}
  ]}
 ],"spacing":0,"resolve":{"scale":{"color":"independent","shape":"independent","stroke":"independent","x":"independent","y":"independent"}}}
],
"spacing":2,
"resolve":{"scale":{"color":"independent","shape":"independent","stroke":"independent","x":"independent","y":"independent"}}
}
